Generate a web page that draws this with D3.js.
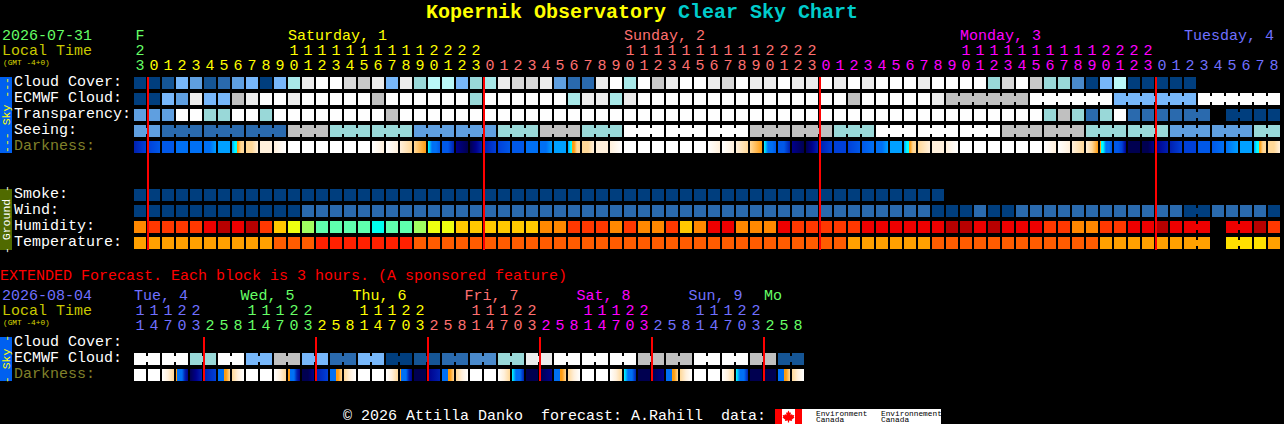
<!DOCTYPE html>
<html><head><meta charset="utf-8">
<style>html,body{margin:0;padding:0;background:#000;overflow:hidden}svg{display:block}text{font-family:"Liberation Mono",monospace;white-space:pre}</style>
<script src="https://cdn.jsdelivr.net/npm/d3@7"></script></head><body>
<svg id="c" width="1284" height="424"></svg>
<script>
const rows=s=>s.trim().split(/\s+/);
const hours=[23,0,1,2,3,4,5,6,7,8,9,10,11,12,13,14,15,16,17,18,19,20,21,22,23,0,1,2,3,4,5,6,7,8,9,10,11,12,13,14,15,16,17,18,19,20,21,22,23,0,1,2,3,4,5,6,7,8,9,10,11,12,13,14,15,16,17,18,19,20,21,22,23,0,1,2,3,4,5,6,7,8];
const dayStartCols=[1,25,49,73];
const dayNames=["Saturday, 1","Sunday, 2","Monday, 3","Tuesday, 4"];
const dayLabelCols=[11,35,59,75];
const midnightCols=[1,25,49,73];
const cloudCover=rows(`a a b f e b c e f a
 f h k l l m j k f k
 g i i f g h k m m k
 e c c k l h l j k l
 l k m l k k l k k l
 k l k l l l k l l l
 l g m l j g g d a f
 i a a a a a - - - - - -`);
const ecmwfCloud=rows(`a a f e k f f n k l
 l k l l l l l n l l
 l l l l g l l l l l
 l h k k h k l l l l
 l l l l l l l l l l
 l n l l l l l k n n
 n n n n l l l l l l
 f f f f f f l l l l l l`);
const transparency=rows(`e e e l l g g l l g
 l l l l l l l l n l
 l l l l l l l l l l
 l l l l l l l l l l
 l l l l l l l l l l
 l l l l l l l l l l
 l l l l l g n g c g
 l c c c c c c - a a a a`);
const seeing=rows(`e e c c c c c c c c
 c n n n g g g g g g
 e e e e e e g g g n
 n n g g g l l l l l
 l l l l n n n n n n
 g g g l l l l l l l
 l l n n n n n n g g
 g g g g e e e e e e g g`);
const smoke=rows(`a a a a a a a a a a
 a a a a a a a a a a
 a a a a a a a a a a
 a a a a a a a a a a
 a a a a a a a a a a
 a a a a a a a a - -
 - - - - - - - - - -
 - - - - - - - - - - - -`);
const wind=rows(`a a a a a a a a a a
 a a c c c c c c c c
 c c c c c c c c c c
 c c c c c c c c c c
 c c c c c c c c c c
 c c c c c c c a a a
 c a a c c c c c c c
 c c c c c a a c c c c a`);
const humidity=rows(`O R R R R E D E D R
 A Y L M M M M C M M
 L Y Y A A A A A A O
 O R R R O R O O R A
 O E E O O O E R R R
 R R E E E E E E D D
 E D E E E R R O O R
 R E E D E E E - E E D R`);
const temperature=rows(`P P P P P P P P P P
 Q Q Q T T T T T T T
 Q Q Q Q Q Q Q Q Q Q
 Q Q Q Q Q Q Q Q Q Q
 Q Q Q Q Q Q Q Q Q Q
 Q P P P P P P Q Q Q
 Q Q Q Q Q Q Q Q Q P
 P P P P P P P - V V V P`);
const darkness=rows(`23 34 44 55 55 556 66 67899 99a aa
 ab bb bb bb bb bb bb ba ba a9
 98 7554 442 10 012 23 34 44 55 556
 66 67899 99a aa ab bb bb bb bb bb
 bb ba ba a9 98 7554 442 10 012 23
 33 34 45 556 66 67899 9a aa ab bb
 bb bb bb bb bb ba ba a9 a98 87554
 4431 00 001 12 23 33 44 45 56 66 67899 99a`);
const seeingRuns=[[0,2],[2,3],[5,3],[8,3],[11,3],[14,3],[17,3],[20,3],[23,3],[26,3],[29,3],[32,3],[35,3],[38,3],[41,3],[44,3],[47,3],[50,3],[53,3],[56,3],[59,3],[62,3],[65,3],[68,3],[71,3],[74,3],[77,3],[80,2]];
const ecmwfRuns=[[58,6],[64,6],[70,6],[76,6]];
const lateRuns=[[75,2],[78,2]];

const extHours=[1,4,7,0,3,2,5,8,1,4,7,0,3,2,5,8,1,4,7,0,3,2,5,8,1,4,7,0,3,2,5,8,1,4,7,0,3,2,5,8,1,4,7,0,3,2,5,8];
const extTens=[1,1,1,2,2,null,null,null,1,1,1,2,2,null,null,null,1,1,1,2,2,null,null,null,1,1,1,2,2,null,null,null,1,1,1,2,2,null,null,null,1,1,1,2,2,null,null,null];
const extDayNames=["Tue, 4","Wed, 5","Thu, 6","Fri, 7","Sat, 8","Sun, 9","Mo"];
const extDayLabelCols=[0,7.6,15.6,23.6,31.6,39.6,45];
const extDayStartCols=[0,5,13,21,29,37,45];
const extMidnightCols=[5,13,21,29,37,45];
const extEcmwf=rows(`l l l l g g l l f f
 n n f f c c f f a a
 b b c c d d g g k k
 l l l l l l n n n n
 l l l l n n b b`);
const extDarkness=rows(`bb bb ba9 85521 012 23 5589 9ab bb bb
 ba9 85521 001 23 5589 9ab bb bb ba9 85521
 00 12 5589 9ab bb bb ba9 7552 00 01
 5589 9ab bb bb ba9 7552 00 01 5589 9ab
 bb bb ba9 7552 00 00 5589 9ab`);
const extRuns=d3.range(24).map(i=>[i*2,2]);

const coverColors={a:"#003e7e",b:"#155595",c:"#2a6aae",d:"#4a8acb",e:"#5f9fe0",f:"#77b7fa",g:"#99d8d8",h:"#a8e8e8",i:"#baf8f8",j:"#c8c8c8",k:"#ececec",l:"#fefefe",m:"#d8d8d8",n:"#c0c0c0",
 O:"#ff8800",R:"#ff3800",E:"#ee0000",D:"#b80000",A:"#ffc800",Y:"#eeff10",L:"#a0ff60",M:"#5fffae",C:"#00ffee",P:"#ffa000",Q:"#ff5c00",T:"#ff2000",V:"#ffe000"};
const darkColors={"0":"#000050","1":"#00008c","2":"#0020b0","3":"#0040d8","4":"#0058e8","5":"#0070f4","6":"#00a0ff","7":"#00ffff","8":"#ff9c10","9":"#ffd898",a:"#fff0dc",b:"#ffffff"};
const dayColors=["#ffff00","#ff7070","#ff00ff","#7070ff"];
const extDayColors=["#7070ff","#66ff66","#ffff00","#ff7070","#ff00ff","#7070ff","#66ff66"];

const svg=d3.select("#c");
const defs=svg.append("defs");
const x=d3.scaleLinear().domain([0,1]).range([134,148]);
const CELL=12,TXT=15;
function txt(s,px,py,fill,opt={}){return svg.append("text").attr("x",px).attr("y",py).attr("fill",fill).attr("font-size",opt.size||TXT).attr("font-weight",opt.weight||null).attr("text-anchor",opt.anchor||null).text(s);}
let gid=0;
function coverRow(vals,top,runs=[]){
  const g=svg.append("g");
  g.selectAll("rect.c").data(vals.map((v,i)=>({v,i})).filter(d=>d.v!=="-")).join("rect").attr("x",d=>x(d.i)).attr("y",top).attr("width",CELL).attr("height",CELL).attr("fill",d=>coverColors[d.v]);
  const joins=[];runs.forEach(([s,n])=>{for(let k=s;k<s+n-1;k++)joins.push(k);});
  g.selectAll("rect.j").data(joins).join("rect").attr("x",d=>x(d)+CELL).attr("y",top+3).attr("width",2).attr("height",6).attr("fill",d=>coverColors[vals[d]]);
}
const isNight=c=>"01234567".includes(c);
function darkRow(vals,top){
  vals.forEach((s,i)=>{
    const id="g"+(gid++);const lg=defs.append("linearGradient").attr("id",id);
    const ch=s.split("");
    ch.forEach((c,k)=>{
      const off=k/(ch.length-1);
      if(k>0&&isNight(ch[k-1])!==isNight(c)){
        const mid=(k-0.5)/(ch.length-1);
        lg.append("stop").attr("offset",mid).attr("stop-color",darkColors[ch[k-1]]);
        lg.append("stop").attr("offset",mid).attr("stop-color",darkColors[c]);
      }
      lg.append("stop").attr("offset",off).attr("stop-color",darkColors[c]);
    });
    svg.append("rect").attr("x",x(i)).attr("y",top).attr("width",CELL).attr("height",CELL).attr("fill",`url(#${id})`);
  });
}
function redLines(cols,y0,y1){svg.selectAll(null).data(cols).join("rect").attr("x",d=>x(d)-1).attr("y",y0).attr("width",2).attr("height",y1-y0).attr("fill","#ff0000");}
function side(y0,y1,bg,fg,s){
  svg.append("rect").attr("x",0).attr("y",y0).attr("width",12).attr("height",y1-y0).attr("fill",bg);
  const c=(y0+y1)/2;
  svg.append("text").attr("transform",`translate(9.5,${c}) rotate(-90)`).attr("text-anchor","middle").attr("fill",fg).attr("font-size",11.5).text(s);
}

// title
const t=txt("",426,18,"#ffff00",{size:20,weight:"bold"});
t.append("tspan").attr("fill","#ffff00").text("Kopernik Observatory ");
t.append("tspan").attr("fill","#00cccc").text("Clear Sky Chart");

// main headers
txt("2026-07-31",2,40,"#66ff66");
txt("Local Time",2,55,"#c8c800");
txt("(GMT -4+0)",3,65,"#d8d800",{size:7.8});
const colColor=i=>{if(i<dayStartCols[0])return "#66ff66";return dayColors[d3.bisectRight(dayStartCols,i)-1];};
txt("F",x(0)+6,40,"#66ff66",{anchor:"middle"});
dayNames.forEach((n,k)=>txt(n,x(dayLabelCols[k]),40,dayColors[k]));
hours.forEach((h,i)=>{
  txt(String(h%10),x(i)+6,70,colColor(i),{anchor:"middle"});
  if(h>=10)txt(String(Math.floor(h/10)),x(i)+6,55,colColor(i),{anchor:"middle"});
});
const rowLabels=[["Cloud Cover:",86,"#fff"],["ECMWF Cloud:",102,"#fff"],["Transparency:",118,"#fff"],["Seeing:",134,"#fff"],["Darkness:",150,"#80802a"],["Smoke:",198,"#fff"],["Wind:",214,"#fff"],["Humidity:",230,"#fff"],["Temperature:",246,"#fff"]];
rowLabels.forEach(([s,y,c])=>txt(s,14,y,c));
side(77,153,"#0060f0","#ffff00","--- Sky ---");
side(189,250,"#506a00","#ffffff","- Ground -");

coverRow(cloudCover,77);
coverRow(ecmwfCloud,93,ecmwfRuns);
coverRow(transparency,109,lateRuns);
coverRow(seeing,125,seeingRuns);
darkRow(darkness,141);
coverRow(smoke,189);
coverRow(wind,205,lateRuns.slice(0,1));
coverRow(humidity,221,lateRuns);
coverRow(temperature,237,lateRuns);
redLines(midnightCols,77,250);

// extended
txt("EXTENDED Forecast. Each block is 3 hours. (A sponsored feature)",0,280,"#ff0000");
txt("2026-08-04",2,300,"#7070ff");
txt("Local Time",2,315,"#c8c800");
txt("(GMT -4+0)",3,325,"#d8d800",{size:7.8});
extDayNames.forEach((n,k)=>txt(n,x(extDayLabelCols[k]),300,extDayColors[k]));
const extColor=i=>extDayColors[d3.bisectRight(extDayStartCols,i)-1];
extHours.forEach((h,i)=>{
  txt(String(h),x(i)+6,330,extColor(i),{anchor:"middle"});
  if(extTens[i]!==null)txt(String(extTens[i]),x(i)+6,315,extColor(i),{anchor:"middle"});
});
[["Cloud Cover:",346,"#fff"],["ECMWF Cloud:",362,"#fff"],["Darkness:",378,"#80802a"]].forEach(([s,y,c])=>txt(s,14,y,c));
side(337,381,"#0060f0","#ffff00","- Sky -");
coverRow(extEcmwf,353,extRuns);
darkRow(extDarkness,369);
redLines(extMidnightCols,337,381);

// footer
txt("© 2026 Attilla Danko  forecast: A.Rahill  data:",343,419.5,"#fff");
svg.append("rect").attr("x",775).attr("y",409).attr("width",166).attr("height",15).attr("fill","#fff");
svg.append("rect").attr("x",775).attr("y",409).attr("width",7).attr("height",15).attr("fill","#ff0000");
svg.append("rect").attr("x",795).attr("y",409).attr("width",7).attr("height",15).attr("fill","#ff0000");
svg.append("path").attr("fill","#ff0000").attr("d","M788.5 410.5l1.3 2.4 1.2-.6-.5 3 1.5-1.2.5 1.2 1.8-.3-.6 2 .8.5-2.8 2.2.4 1.2-3-.4v2h-1.2v-2l-3 .4.4-1.2-2.8-2.2.8-.5-.6-2 1.8.3.5-1.2 1.5 1.2-.5-3 1.2.6z");
[["Environment",816,416],["Canada",816,422],["Environnement",881,416],["Canada",881,422]].forEach(([s,px,py])=>txt(s,px,py,"#000",{size:7.8}));
</script></body></html>
